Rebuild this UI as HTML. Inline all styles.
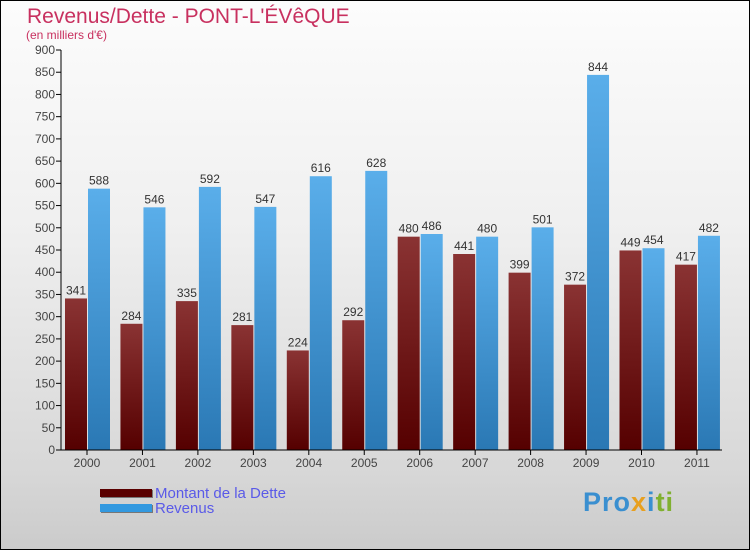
<!DOCTYPE html>
<html><head><meta charset="utf-8"><style>
body{margin:0;}
#wrap{width:748px;height:548px;border:1px solid #000;position:relative;background:linear-gradient(#fcfcfc,#f0f0f0 40%,#d8d8d8 85%,#cbcbcb);font-family:"Liberation Sans",sans-serif;overflow:hidden}
.t{position:absolute;white-space:nowrap}
</style></head><body>
<div id="wrap">
<div class="t" style="left:26px;top:4px;font-size:21px;color:#c8305f;">Revenus/Dette - PONT-L'ÉVêQUE</div>
<div class="t" style="left:25px;top:27px;font-size:12px;color:#c8305f;">(en milliers d'€)</div>
<svg id="svg" width="750" height="550" style="position:absolute;left:-1px;top:-1px">
<defs>
<linearGradient id="gd" x1="0" y1="0" x2="0" y2="1"><stop offset="0" stop-color="#8a3333"/><stop offset="1" stop-color="#550000"/></linearGradient>
<linearGradient id="gr" x1="0" y1="0" x2="0" y2="1"><stop offset="0" stop-color="#5aaeea"/><stop offset="1" stop-color="#2a78b4"/></linearGradient>
</defs>
</svg>
<div class="t" style="left:99px;top:488px;width:52px;height:8px;background:#5a0000;box-shadow:1px 1px 0 #777"></div>
<div class="t" style="left:154px;top:484px;font-size:15px;color:#5a5ae8">Montant de la Dette</div>
<div class="t" style="left:99px;top:503px;width:52px;height:8px;background:#3399e0;box-shadow:1px 1px 0 #777"></div>
<div class="t" style="left:154px;top:499px;font-size:15px;color:#5a5ae8">Revenus</div>
<div class="t" style="left:582px;top:486px;font-size:27px;font-weight:bold;letter-spacing:1px"><span style="color:#3a8fd0">Pro</span><span style="color:#e8a020">x</span><span style="color:#3a8fd0">i</span><span style="color:#80b030">ti</span></div>
</div>
<script>
const years=["2000","2001","2002","2003","2004","2005","2006","2007","2008","2009","2010","2011"];
const dette=[341,284,335,281,224,292,480,441,399,372,449,417];
const revenus=[588,546,592,547,616,628,486,480,501,844,454,482];
const yTicks=[0,50,100,150,200,250,300,350,400,450,500,550,600,650,700,750,800,850,900];
const svg=document.getElementById('svg');const NS='http://www.w3.org/2000/svg';
const y=v=>450-v*400/900;const x0=i=>87+i*55.45;
function mk(t,a,txt){const e=document.createElementNS(NS,t);for(const k in a)e.setAttribute(k,a[k]);if(txt!==undefined)e.textContent=txt;svg.appendChild(e);return e;}
yTicks.forEach(v=>{
const l=mk('line',{x1:56,x2:61,y1:y(v),y2:y(v),stroke:'#000'});


const t=mk('text',{x:55,y:y(v)+4,'text-anchor':'end','font-size':12,fill:'#444','font-family':'Liberation Sans'},v);


});
years.forEach((yr,i)=>{
const c=x0(i);
const b1=mk('rect',{x:c-22,y:y(dette[i]),width:22,height:450-y(dette[i]),fill:'url(#gd)'});


const b2=mk('rect',{x:c+1,y:y(revenus[i]),width:22,height:450-y(revenus[i]),fill:'url(#gr)'});


const t1=mk('text',{x:c-11,y:y(dette[i])-4,'text-anchor':'middle','font-size':12,fill:'#333','font-family':'Liberation Sans'},dette[i]);


const t2=mk('text',{x:c+12,y:y(revenus[i])-4,'text-anchor':'middle','font-size':12,fill:'#333','font-family':'Liberation Sans'},revenus[i]);


const xt=mk('line',{x1:c,x2:c,y1:450,y2:455,stroke:'#000'});


const xl=mk('text',{x:c,y:467,'text-anchor':'middle','font-size':12,fill:'#444','font-family':'Liberation Sans'},yr);


});
const ya=mk('line',{x1:61,x2:61,y1:50,y2:450,stroke:'#000'});


const xa=mk('line',{x1:61,x2:722,y1:450,y2:450,stroke:'#000'});


</script>
</body></html>
